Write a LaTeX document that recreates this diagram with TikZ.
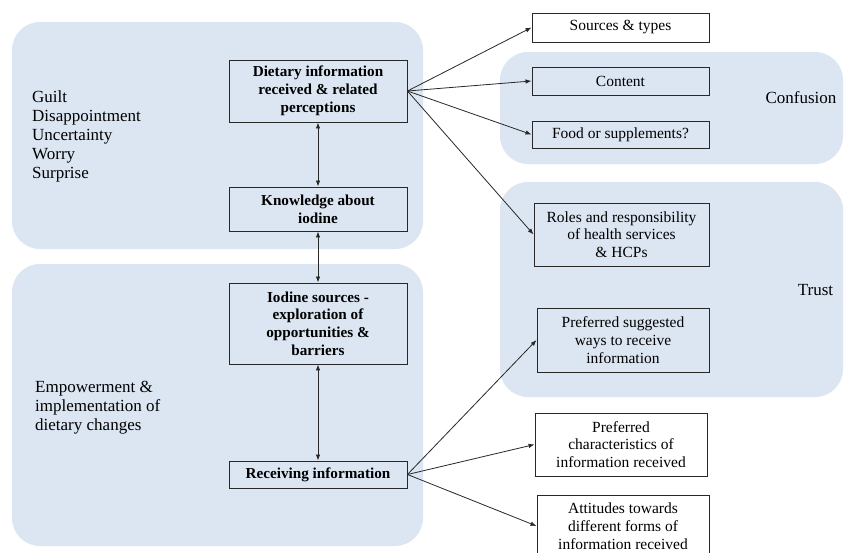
\documentclass[tikz,border=0pt]{standalone}
\usepackage{fontspec}
\setmainfont{Liberation Serif}
\usetikzlibrary{arrows.meta}
\definecolor{regionblue}{RGB}{220,230,242}
\definecolor{linegray}{RGB}{40,40,40}
\begin{document}
\begin{tikzpicture}[x=1pt,y=-1pt,
  region/.style={fill=regionblue, draw=none, rounded corners=28pt},
  box/.style={draw=linegray, line width=0.9pt, align=center, inner sep=2pt, font=\fontsize{15.5}{17.8}\selectfont},
  boldbox/.style={box, font=\fontsize{15.2}{17.8}\selectfont\bfseries},
  lbl/.style={align=left, anchor=north west, inner sep=0pt, font=\fontsize{17}{19}\selectfont},
  side/.style={font=\fontsize{17}{19}\selectfont, inner sep=0pt},
  conn/.style={draw=linegray, line width=0.8pt, -{Latex[length=6pt,width=4.5pt]}},
  dconn/.style={draw=linegray, line width=0.8pt, {Latex[length=6pt,width=4.5pt]}-{Latex[length=6pt,width=4.5pt]}}
]
\useasboundingbox (0,0) rectangle (844,552);
\fill[white] (0,0) rectangle (844,552);
% regions
\fill[region] (12,22) rectangle (423,249);
\fill[region] (12,264) rectangle (423,546);
\fill[region] (500,52) rectangle (843,164);
\fill[region] (500,182) rectangle (843,397);
% region labels
\node[lbl] (emo) at (32,91) {Guilt\\Disappointment\\Uncertainty\\Worry\\Surprise};
\node[lbl] (emp) at (35,381) {Empowerment \&\\implementation of\\dietary changes};
\node[side] (conf) at (801,98) {Confusion};
\node[side] (trust) at (815.5,290) {Trust};
% left boxes
\node[boldbox, minimum width=178pt, minimum height=62pt] (diet) at (318,91) {Dietary information\\received \& related\\perceptions};
\node[boldbox, minimum width=178pt, minimum height=44pt] (know) at (318,209) {Knowledge about\\iodine};
\node[boldbox, minimum width=178pt, minimum height=81pt] (iod) at (318,323.5) {Iodine sources -\\exploration of\\opportunities \&\\barriers};
\node[boldbox, minimum width=178pt, minimum height=27pt] (recv) at (318,474.5) {Receiving information};
% right boxes
\node[box, fill=white, minimum width=177pt, minimum height=29pt] (src) at (620.5,27.5) {Sources \& types};
\node[box, minimum width=177pt, minimum height=28pt] (cont) at (620.5,81) {Content};
\node[box, minimum width=177pt, minimum height=27pt] (food) at (620.5,134.5) {Food or supplements?};
\node[box, minimum width=175pt, minimum height=63pt] (roles) at (621.5,234.5) {Roles and responsibility\\of health services\\\& HCPs};
\node[box, minimum width=172pt, minimum height=64pt] (psug) at (623,340) {Preferred suggested\\ways to receive\\information};
\node[box, fill=white, minimum width=172pt, minimum height=63pt] (pchar) at (621,444.5) {Preferred\\characteristics of\\information received};
\node[box, fill=white, minimum width=172pt, minimum height=62pt] (att) at (623,526) {Attitudes towards\\different forms of\\information received};
% connectors
\draw[dconn] (diet.south) -- (know.north);
\draw[dconn] (know.south) -- (iod.north);
\draw[dconn] (iod.south) -- (recv.north);
\draw[conn] (diet.east) -- (src.west);
\draw[conn] (diet.east) -- (cont.west);
\draw[conn] (diet.east) -- (food.west);
\draw[conn] (diet.east) -- (roles.west);
\draw[conn] (recv.east) -- (psug.west);
\draw[conn] (recv.east) -- (pchar.west);
\draw[conn] (recv.east) -- (att.west);
\end{tikzpicture}
\end{document}
